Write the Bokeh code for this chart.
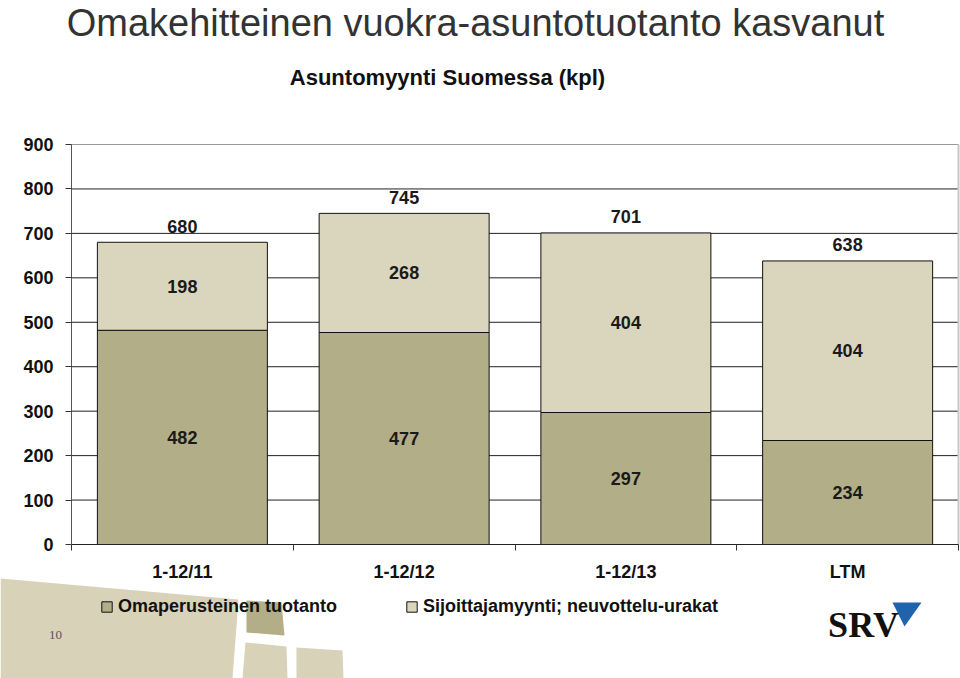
from bokeh.plotting import figure
from bokeh.models import (ColumnDataSource, Range1d, FixedTicker, Legend, LegendItem,
                          Label, PolyAnnotation, LinearAxis)
from bokeh.core.properties import value
from bokeh.embed import file_html
from bokeh.resources import INLINE

# ---- data ----
categories = ["1-12/11", "1-12/12", "1-12/13", "LTM"]
omaperusteinen = [482, 477, 297, 234]
sijoittaja = [198, 268, 404, 404]
totals = [680, 745, 701, 638]
series_names = ["Omaperusteinen tuotanto", "Sijoittajamyynti; neuvottelu-urakat"]
y_ticks = [0, 100, 200, 300, 400, 500, 600, 700, 800, 900]

DARK = "#b2ae88"
LIGHT = "#dad6be"
FONT = "Liberation Sans"

W, H = 960, 678
X0, Y0 = 71, 544          # page px of the chart origin (x=0, y=0)
CAT_W = 221.75            # px per category
YPX = 400 / 900.0         # px per unit

def px(page_x):
    return (page_x - X0) / CAT_W

def py(page_y):
    return (Y0 - page_y) / YPX

xs = [i + 0.5 for i in range(len(categories))]
src = ColumnDataSource(dict(
    x=xs,
    oma=omaperusteinen,
    sij=sijoittaja,
    total=totals,
    oma_mid=[v / 2 for v in omaperusteinen],
    sij_mid=[a + b / 2 for a, b in zip(omaperusteinen, sijoittaja)],
    oma_lbl=[str(v) for v in omaperusteinen],
    sij_lbl=[str(v) for v in sijoittaja],
    tot_lbl=[str(v) for v in totals],
))

p = figure(width=W, height=H, output_backend="svg", toolbar_location=None,
           x_range=Range1d(px(0), px(W)), y_range=Range1d(py(H), py(0)),
           min_border=0, x_axis_location=None, y_axis_location=None)
p.outline_line_color = None
p.background_fill_color = "white"
p.border_fill_color = "white"
p.xgrid.visible = False
p.ygrid.visible = False

# decorations (bottom-left shapes) and logo triangle
def poly(pts, color):
    p.add_layout(PolyAnnotation(xs=[px(a) for a, b in pts], ys=[py(b) for a, b in pts],
                                fill_color=color, fill_alpha=1, line_color=None,
                                level="underlay"))

poly([(0, 578), (238, 599), (232, 678), (0, 678)], "#d7d2b8")
poly([(246, 600), (281, 602), (284, 635), (246, 632)], "#b3ae88")
poly([(245, 642), (286, 646), (287, 678), (242, 678)], "#d7d2b8")
poly([(296, 647), (342, 650), (343, 678), (296, 678)], "#d7d2b8")
poly([(892, 602), (921, 602), (904, 626)], "#1f63ad")

# grid lines (behind bars)
grid_y = y_ticks[1:]
p.segment(x0=[0] * len(grid_y), x1=[len(categories)] * len(grid_y), y0=grid_y, y1=grid_y,
          line_color=["#222222"] * (len(grid_y) - 1) + ["#999999"], line_width=1)
# right border of plot area
p.segment(x0=[len(categories)], x1=[len(categories)], y0=[0], y1=[y_ticks[-1]],
          line_color="#c8c8c8", line_width=2)

# axes, fixed at the chart origin
yaxis = LinearAxis(ticker=FixedTicker(ticks=y_ticks), fixed_location=0, bounds=(0, 900))
yaxis.axis_line_color = "#555555"
yaxis.major_tick_out = 6
yaxis.major_tick_in = 0
yaxis.minor_tick_out = 0
yaxis.major_tick_line_color = "#333333"
yaxis.major_label_text_font = FONT
yaxis.major_label_text_font_style = "bold"
yaxis.major_label_text_font_size = "18px"
yaxis.major_label_text_color = "#111111"
yaxis.major_label_standoff = 12
p.add_layout(yaxis, "left")

xaxis = LinearAxis(ticker=FixedTicker(ticks=xs, minor_ticks=[0, 1, 2, 3, 4]),
                   fixed_location=0, bounds=(0, len(categories)))
xaxis.major_label_overrides = {x: c for x, c in zip(xs, categories)}
xaxis.axis_line_color = "#222222"
xaxis.major_tick_out = 0
xaxis.major_tick_in = 0
xaxis.minor_tick_out = 6
xaxis.minor_tick_in = 0
xaxis.minor_tick_line_color = "#333333"
xaxis.major_label_text_font = FONT
xaxis.major_label_text_font_style = "bold"
xaxis.major_label_text_font_size = "18px"
xaxis.major_label_text_color = "#111111"
xaxis.major_label_standoff = 11
p.add_layout(xaxis, "below")

rs = p.vbar_stack(["oma", "sij"], x="x", width=170 / CAT_W, source=src,
                  fill_color=[DARK, LIGHT], line_color="#111111", line_width=1)

lbl_kw = dict(text_font=value(FONT), text_font_style="bold", text_font_size="18px",
              text_color="#1a1a1a", text_align="center", text_baseline="middle")
p.text(x="x", y="oma_mid", text="oma_lbl", source=src, **lbl_kw)
p.text(x="x", y="sij_mid", text="sij_lbl", source=src, **lbl_kw)
p.text(x="x", y="total", text="tot_lbl", source=src, y_offset=-16, **lbl_kw)

legend = Legend(items=[LegendItem(label=series_names[0], renderers=[rs[0]]),
                       LegendItem(label=series_names[1], renderers=[rs[1]])],
                orientation="horizontal", location=(100, 61),
                glyph_width=13, glyph_height=13, label_standoff=5, spacing=68,
                padding=0, margin=0, border_line_color=None, background_fill_alpha=0,
                label_text_font=FONT, label_text_font_style="bold",
                label_text_font_size="18px", label_text_color="#111111")
p.add_layout(legend)

p.add_layout(Label(x=px(475), y=py(22), text="Omakehitteinen vuokra-asuntotuotanto kasvanut",
                   text_font=FONT, text_font_size="38px", text_color="#333333",
                   text_align="center", text_baseline="middle"))
p.add_layout(Label(x=px(447), y=py(77), text="Asuntomyynti Suomessa (kpl)",
                   text_font=FONT, text_font_size="22px", text_font_style="bold",
                   text_color="#111111", text_align="center", text_baseline="middle"))
p.add_layout(Label(x=px(55), y=py(634), text="10", text_font="Liberation Serif",
                   text_font_size="13px", text_color="#555555",
                   text_align="center", text_baseline="middle"))
p.add_layout(Label(x=px(863), y=py(624), text="SRV", text_font="Liberation Serif",
                   text_font_size="36px", text_font_style="bold", text_color="#111111",
                   text_align="center", text_baseline="middle"))

open("out.html", "w").write(file_html(p, INLINE))
